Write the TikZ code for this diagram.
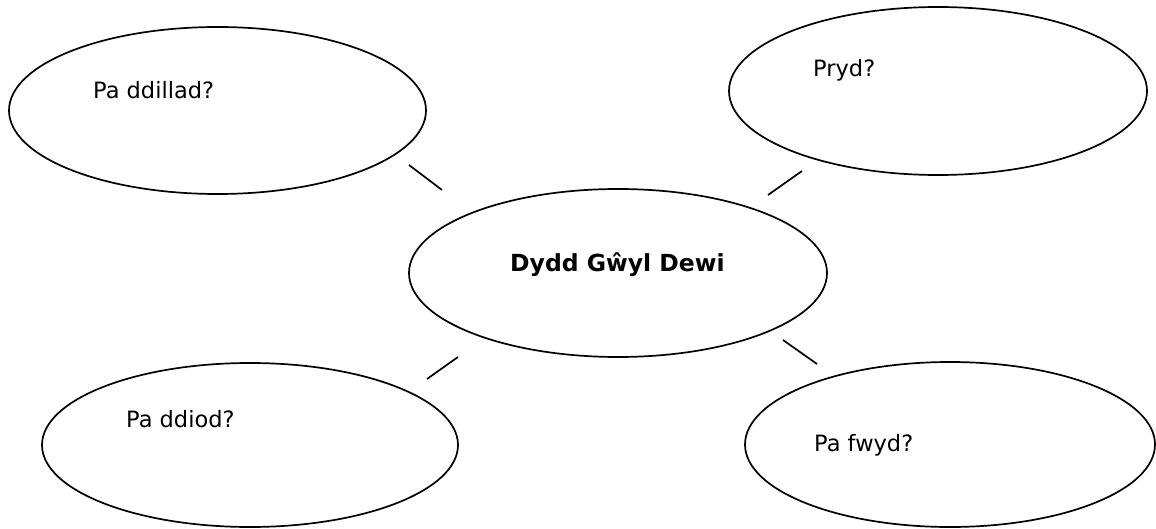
\documentclass[tikz,border=0pt]{standalone}
\usepackage{fontspec}
\setmainfont{DejaVu Sans}
\usetikzlibrary{shapes.geometric}
\tikzset{
  bubble/.style={draw, ellipse, line width=1.7pt, inner sep=0pt},
  question/.style={anchor=base west, inner sep=0pt, font=\fontsize{22.5pt}{27pt}\selectfont},
  spoke/.style={line width=1.7pt},
}

\begin{document}
\begin{tikzpicture}[x=1pt, y=-1pt]
    \useasboundingbox (0,0) rectangle (1156,529);
    % define bubbles
    \node[bubble, minimum width=417pt, minimum height=167pt] (dillad) at (217.5,110.5) {};
    \node[bubble, minimum width=418pt, minimum height=168pt] (pryd) at (938,91) {};
    \node[bubble, minimum width=418pt, minimum height=168pt] (dewi) at (618,273) {};
    \node[bubble, minimum width=416pt, minimum height=164pt] (diod) at (250,445) {};
    \node[bubble, minimum width=410pt, minimum height=165pt] (bwyd) at (950,444.5) {};
    % define spoke ends
    \coordinate (tl_out) at (409,165);
    \coordinate (tl_in) at (442,190);
    \coordinate (tr_out) at (802,171);
    \coordinate (tr_in) at (768,195);
    \coordinate (bl_out) at (427,379);
    \coordinate (bl_in) at (458,357);
    \coordinate (br_out) at (817,364);
    \coordinate (br_in) at (783,340);
    % draw spokes
    \draw[spoke] (tl_out) -- (tl_in);
    \draw[spoke] (tr_out) -- (tr_in);
    \draw[spoke] (bl_out) -- (bl_in);
    \draw[spoke] (br_out) -- (br_in);
    % add labels
    \node[question] (dillad_text) at (93,99) {Pa ddillad?};
    \node[question] (pryd_text) at (813,77) {Pryd?};
    \node[question, font=\fontsize{23.5pt}{28pt}\selectfont\bfseries] (dewi_text) at (510,272) {Dydd Gŵyl Dewi};
    \node[question] (diod_text) at (126,427) {Pa ddiod?};
    \node[question] (bwyd_text) at (814,451) {Pa fwyd?};
\end{tikzpicture}
\end{document}
